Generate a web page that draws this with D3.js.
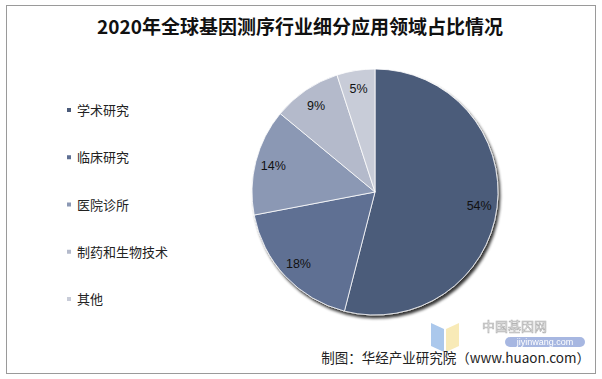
<!DOCTYPE html>
<html>
<head>
<meta charset="utf-8">
<script src="https://cdn.jsdelivr.net/npm/d3@7"></script>
<style>
  body { margin: 0; background: #fff; }
  svg { display: block; }
</style>
</head>
<body>
<svg id="chart"></svg>
<script>
var categories = ["学术研究", "临床研究", "医院诊所", "制药和生物技术", "其他"];
var values = [54, 18, 14, 9, 5];
var colors = ["#4b5b7a", "#5e6f93", "#8b98b4", "#b4bacb", "#c8ccd8"];
var title = "2020年全球基因测序行业细分应用领域占比情况";
var source = "制图：华经产业研究院（www.huaon.com）";

var W = 602, H = 379;
var svg = d3.select("#chart").attr("width", W).attr("height", H);

// outer frame
svg.append("rect")
    .attr("x", 6.5).attr("y", 5.5)
    .attr("width", 589).attr("height", 368)
    .attr("fill", "#fff")
    .attr("stroke", "#9a9a9a")
    .attr("stroke-width", 1);

svg.append("text")
    .attr("x", 300).attr("y", 34)
    .attr("text-anchor", "middle")
    .style("font-family", "'Noto Sans CJK SC', sans-serif")
    .style("font-weight", "bold")
    .style("font-size", "19px")
    .attr("fill", "#111")
    .text(title);

// legend
var legend = svg.append("g");
var ly = d3.scalePoint().domain(categories).range([110, 299]);
categories.forEach(function (c, i) {
    legend.append("rect")
        .attr("x", 67).attr("y", ly(c) - 2)
        .attr("width", 4).attr("height", 4)
        .attr("fill", colors[i]);
    legend.append("text")
        .attr("x", 77).attr("y", ly(c) + 5)
        .style("font-family", "'Noto Sans CJK SC', sans-serif")
        .style("font-size", "13px")
        .attr("fill", "#222")
        .text(c);
});

// pie
var cx = 375, cy = 192, r = 123;
var pie = d3.pie().sort(null).value(function (d) { return d; });
var arcs = pie(values);
var arc = d3.arc().innerRadius(0).outerRadius(r);
var labelArc = d3.arc().innerRadius(105).outerRadius(105);

var defs = svg.append("defs");
var f = defs.append("filter").attr("id", "shadow")
    .attr("x", "-20%").attr("y", "-20%").attr("width", "140%").attr("height", "140%");
f.append("feGaussianBlur").attr("in", "SourceAlpha").attr("stdDeviation", 1.5);
f.append("feOffset").attr("dx", 2).attr("dy", 3).attr("result", "b");
f.append("feComponentTransfer").append("feFuncA").attr("type", "linear").attr("slope", 0.8);
var m = f.append("feMerge");
m.append("feMergeNode");
m.append("feMergeNode").attr("in", "SourceGraphic");

var g = svg.append("g").attr("transform", "translate(" + cx + "," + cy + ")");
var slices = g.append("g").attr("filter", "url(#shadow)");
slices.selectAll("path")
    .data(arcs)
    .enter().append("path")
    .attr("d", arc)
    .attr("fill", function (d, i) { return colors[i]; })
    .attr("stroke", "#fff")
    .attr("stroke-width", 0.8);

g.selectAll(".lbl")
    .data(arcs)
    .enter().append("text")
    .attr("class", "lbl")
    .attr("transform", function (d) { return "translate(" + labelArc.centroid(d) + ")"; })
    .attr("text-anchor", "middle")
    .attr("dy", "0.35em")
    .style("font-family", "'Liberation Sans', Arial, sans-serif")
    .style("font-size", "12.5px")
    .attr("fill", "#111")
    .text(function (d) { return d.data + "%"; });

// watermark
var wm = svg.append("g").attr("opacity", 0.75);
wm.append("path").attr("d", "M431,323 L444,329 L444,352 L431,346 Z").attr("fill", "#8fb6e6");
wm.append("path").attr("d", "M446,329 L459,323 L459,346 L446,352 Z").attr("fill", "#f6e3a0");
wm.append("text").attr("x", 482).attr("y", 331)
    .style("font-family", "'Noto Sans CJK SC', sans-serif").style("font-size", "13px")
    .attr("fill", "#fff").attr("stroke", "#9a9a9a").attr("stroke-width", 0.7)
    .text("中国基因网");
wm.append("rect").attr("x", 505).attr("y", 337).attr("width", 80).attr("height", 10)
    .attr("rx", 5).attr("fill", "#8aa0d8");
wm.append("text").attr("x", 545).attr("y", 345).attr("text-anchor", "middle")
    .style("font-family", "'Liberation Sans', Arial, sans-serif").style("font-size", "9px")
    .attr("fill", "#fff").text("jiyinwang.com");

svg.append("text")
    .attr("x", 590).attr("y", 363)
    .attr("text-anchor", "end")
    .style("font-family", "'Noto Sans CJK SC', sans-serif")
    .style("font-size", "13.5px")
    .attr("fill", "#222")
    .text(source);
</script>
</body>
</html>
